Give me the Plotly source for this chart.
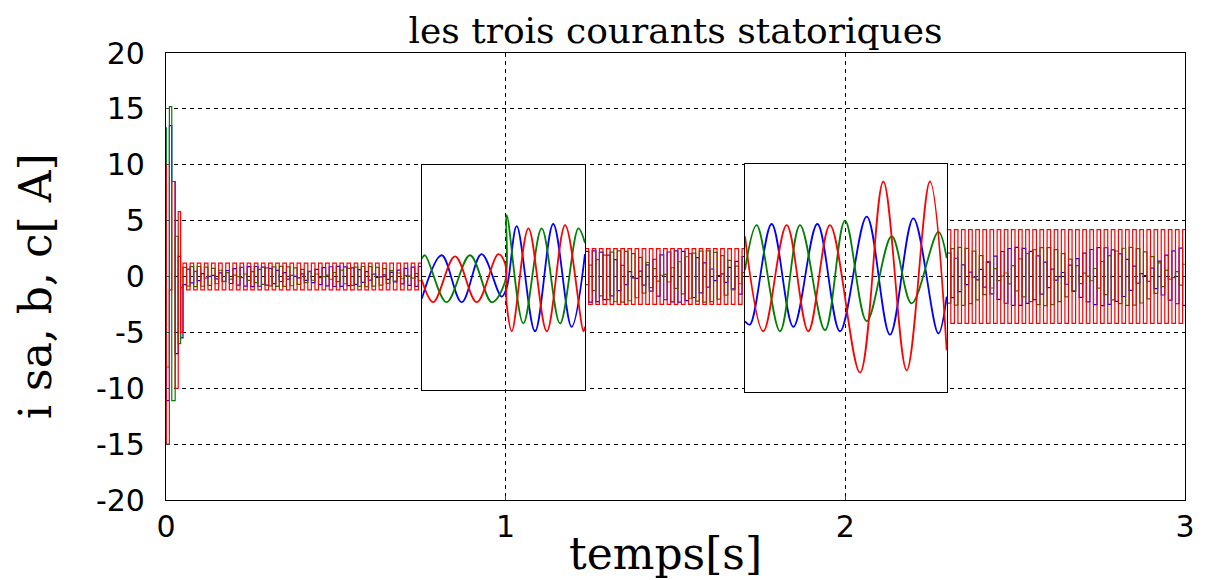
import numpy as np
import plotly.graph_objects as go

# ---------------- data ----------------
# start-up transient of the main trace (held samples)
t_tr     = [0.000, 0.001, 0.010, 0.017, 0.027, 0.036, 0.043]
red_tr   = [10.0, -15.0, -1.2,  8.5, -10.0,  5.8, -5.0]
blue_tr  = [-8.1, -11.1, 13.5,  8.5,  -6.9,  1.8, -5.5]
green_tr = [13.3,  -8.1, 15.2, -11.1,  3.6, -6.0, -1.0]

# steady-state (aliased, held-sample) segments of the main trace
seg_start  = [0.050, 1.234, 2.300]
seg_end    = [0.754, 1.705, 3.000]
seg_red    = [1.2, 2.5, 4.2]      # red swing per segment
seg_bg     = [0.9, 2.3, 2.6]      # blue / green swing per segment
sample_dt  = 0.0105               # sample period of the scope trace
beat_T     = 0.5                  # slow beat of blue / green

# zoom window 1 : extrema of each phase
z1_red_t   = [0.753, 0.787, 0.851, 0.915, 0.978, 0.998, 1.003, 1.018, 1.067, 1.121, 1.175, 1.229, 1.2335]
z1_red_v   = [-0.3, -2.3, 1.8, -2.3, 2.0, 1.2, -2.5, -4.9, 4.3, -4.9, 4.6, -4.9, -4.5]
z1_blue_t  = [0.753, 0.8116, 0.8705, 0.929, 0.988, 1.003, 1.0325, 1.0864, 1.140, 1.194, 1.2335]
z1_blue_v  = [-2.0, 1.9, -2.3, 2.0, -1.8, -1.0, 4.5, -4.9, 4.7, -4.5, 2.0]
z1_green_t = [0.753, 0.7625, 0.826, 0.895, 0.959, 0.998, 1.003, 1.052, 1.106, 1.160, 1.214, 1.2335]
z1_green_v = [1.6, 1.9, -2.3, 1.9, -2.3, -0.5, 5.5, -4.2, 4.3, -4.2, 4.3, 3.0]

# zoom window 2 : extrema of each phase
z2_red_t   = [1.7046, 1.7585, 1.8273, 1.891, 1.9548, 2.0432, 2.1118, 2.1806, 2.249, 2.2984]
z2_red_v   = [3.6, -4.9, 4.6, -4.9, 4.6, -8.6, 8.5, -8.4, 8.5, -6.6]
z2_blue_t  = [1.7046, 1.7193, 1.783, 1.847, 1.9176, 1.9843, 2.063, 2.1315, 2.2002, 2.2738, 2.2984]
z2_blue_v  = [-4.0, -4.3, 4.7, -4.5, 4.7, -4.9, 5.35, -5.2, 5.2, -5.1, -1.8]
z2_green_t = [1.7046, 1.739, 1.8077, 1.8665, 1.940, 1.999, 2.063, 2.1365, 2.1953, 2.2738, 2.2984]
z2_green_v = [0.6, 4.6, -4.9, 4.6, -4.8, 5.0, -4.0, 3.6, -2.4, 4.0, 1.65]

# zoom window placement (in main-axis units)
win1_t = [0.754, 1.234]
win1_i = [-10.2, 10.0]
win2_t = [1.7046, 2.3003]
win2_i = [-10.3, 10.1]

x_ticks = [0, 1, 2, 3]
y_ticks = [-20, -15, -10, -5, 0, 5, 10, 15, 20]
y_ticktext = ['-20', '-15', '-10', '-5', '0', '5', '10', '15', '20']

RED, BLUE, GREEN = '#ff0000', '#0000ff', '#008000'

# ---------------- build main (held-sample) traces ----------------
def main_trace(tr_v, kind):
    xs, ys = list(t_tr), list(tr_v)
    for i in range(len(seg_start)):
        ts = np.arange(seg_start[i], seg_end[i], sample_dt)
        sgn = np.where(np.arange(len(ts)) % 2 == 0, 1.0, -1.0)
        if kind == 'red':
            v = sgn * seg_red[i]
        elif kind == 'blue':
            v = -sgn * seg_bg[i] * np.cos(2 * np.pi * ts / beat_T)
        else:
            v = -sgn * seg_bg[i] * np.cos(2 * np.pi * ts / beat_T + 2 * np.pi / 3)
        if i > 0:
            xs.append(None); ys.append(None)
        xs += list(ts) + [seg_end[i]]
        ys += list(v) + [v[-1]]
    return xs, ys

fig = go.Figure()
for kind, col, tv in [('blue', BLUE, blue_tr), ('green', GREEN, green_tr), ('red', RED, red_tr)]:
    xs, ys = main_trace(tv, kind)
    fig.add_trace(go.Scatter(x=xs, y=ys, mode='lines', line=dict(color=col, width=1.2, shape='hv'),
                             xaxis='x', yaxis='y', hoverinfo='skip'))

for (tt, vv, col) in [(z1_blue_t, z1_blue_v, BLUE), (z1_green_t, z1_green_v, GREEN), (z1_red_t, z1_red_v, RED)]:
    fig.add_trace(go.Scatter(x=tt, y=vv, mode='lines', line=dict(color=col, width=1.8, shape='spline', smoothing=1),
                             xaxis='x2', yaxis='y2', hoverinfo='skip'))
for (tt, vv, col) in [(z2_blue_t, z2_blue_v, BLUE), (z2_green_t, z2_green_v, GREEN), (z2_red_t, z2_red_v, RED)]:
    fig.add_trace(go.Scatter(x=tt, y=vv, mode='lines', line=dict(color=col, width=1.8, shape='spline', smoothing=1),
                             xaxis='x3', yaxis='y3', hoverinfo='skip'))

grid = dict(showgrid=True, gridcolor='black', gridwidth=1, griddash='4px,4px', zeroline=False,
            showline=True, mirror=True, linecolor='black', linewidth=1.2, automargin=False)
tickfont = dict(family='DejaVu Sans', size=30, color='black')
labfont = dict(family='DejaVu Serif', size=44, color='black')

# the page body adds an 8 px offset, so the figure is 8 px smaller and shifted
W, H = 1197, 572
fig.update_layout(
    width=W, height=H,
    margin=dict(l=158, r=20, t=45, b=80),
    paper_bgcolor='white', plot_bgcolor='white',
    showlegend=False,
    title=dict(text='les trois courants statoriques', x=0.5, xanchor='center', xref='paper',
               y=1 - 22 / H, yref='container', yanchor='middle', automargin=False,
               font=dict(family='DejaVu Serif', size=36, color='black')),
    xaxis=dict(domain=[0, 1], range=[0, 3], tickvals=x_ticks, ticks='inside', ticklen=4,
               tickfont=tickfont, ticklabelstandoff=0, **grid),
    yaxis=dict(domain=[0, 1], range=[-20, 20], tickvals=y_ticks, ticktext=y_ticktext,
               ticks='inside', ticklen=4, tickfont=tickfont, ticklabelstandoff=14, **grid),
    xaxis2=dict(domain=[win1_t[0] / 3, win1_t[1] / 3], range=win1_t, anchor='y2',
                tickvals=[1], showticklabels=False, ticks='', **grid),
    yaxis2=dict(domain=[(win1_i[0] + 20) / 40, (win1_i[1] + 20) / 40], range=win1_i, anchor='x2',
                tickvals=[0], showticklabels=False, ticks='', **grid),
    xaxis3=dict(domain=[win2_t[0] / 3, win2_t[1] / 3], range=win2_t, anchor='y3',
                tickvals=[2], showticklabels=False, ticks='', **grid),
    yaxis3=dict(domain=[(win2_i[0] + 20) / 40, (win2_i[1] + 20) / 40], range=win2_i, anchor='x3',
                tickvals=[0], showticklabels=False, ticks='', **grid),
    annotations=[
        dict(text='temps[s]', xref='paper', yref='paper', x=0.49, y=-(553 - 500) / 447,
             xanchor='center', yanchor='middle', showarrow=False, font=labfont),
        dict(text='i sa, b, c[ A]', xref='paper', yref='paper', x=-(166 - 35) / 1019, y=0.5 - (286 - 276.5) / 447,
             xanchor='center', yanchor='middle', textangle=-90, showarrow=False, font=labfont),
    ],
)

fig.write_html('out.html')
